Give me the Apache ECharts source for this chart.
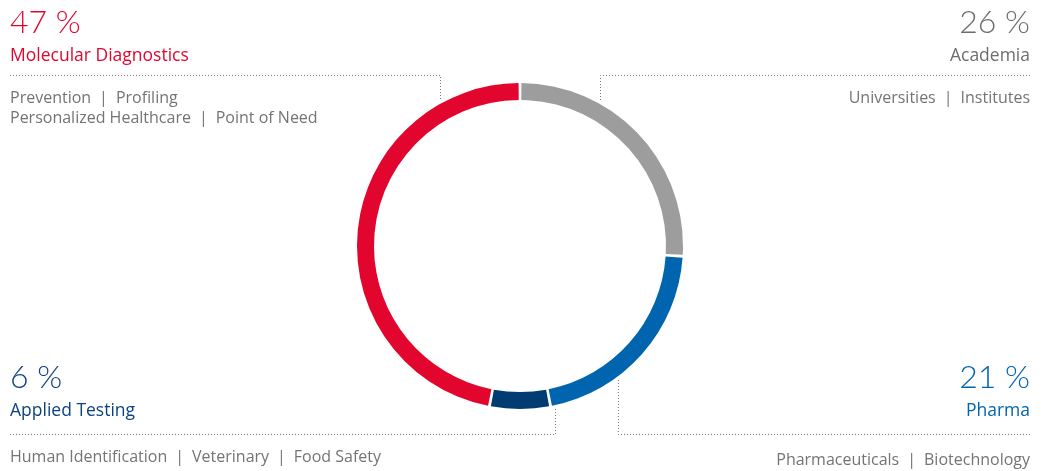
<!DOCTYPE html>
<html>
<head>
<meta charset="utf-8">
<script src="https://cdn.jsdelivr.net/npm/echarts@6/dist/echarts.min.js"></script>
<style>
  html, body { margin: 0; padding: 0; background: #ffffff; }
  #chart { width: 1041px; height: 471px; }
</style>
</head>
<body>
<div id="chart"></div>
<script>
// Business segments, clockwise from the top of the ring
const segments = ['Academia', 'Pharma', 'Applied Testing', 'Molecular Diagnostics'];
const shares = [26, 21, 6, 47];
const details = [
  ['Universities | Institutes'],
  ['Pharmaceuticals | Biotechnology'],
  ['Human Identification | Veterinary | Food Safety'],
  ['Prevention | Profiling', 'Personalized Healthcare | Point of Need']
];

// Styling
const arcColors = ['#9d9d9d', '#0064ae', '#003b71', '#e2062f'];
const headColors = ['#6d6d6d', '#0064ae', '#0b4282', '#e2062f'];
const subColor = '#747474';
const dotColor = '#7a7a7a';
const NUM_FONT = 'Lato, "Open Sans", sans-serif';
const TXT_FONT = '"Open Sans", Lato, sans-serif';

const CX = 520, CY = 246, R_OUT = 163, R_IN = 146;

// Label block placement for each segment: corner, anchor x, leader-line knee x
const blocks = [
  { align: 'right', x: 1030, top: true,  kneeX: 600, subY: 98 },
  { align: 'right', x: 1030, top: false, kneeX: 618, subY: 460 },
  { align: 'left',  x: 10,   top: false, kneeX: 555, subY: 457 },
  { align: 'left',  x: 10,   top: true,  kneeX: 440, subY: 98 }
];

// wider gaps around the separators
const spaced = s => s.replace(/ \| /g, '\u2002|\u2002');

const graphic = [];
segments.forEach((name, i) => {
  const b = blocks[i];
  const pctY = b.top ? 23 : 378;
  const nameY = b.top ? 56 : 411;
  const ruleY = b.top ? 75 : 434;
  graphic.push({
    type: 'text',
    style: { x: b.x, y: pctY, text: shares[i] + ' %', font: '300 32px ' + NUM_FONT,
             fill: headColors[i], textAlign: b.align, textVerticalAlign: 'middle' }
  });
  graphic.push({
    type: 'text',
    style: { x: b.x, y: nameY, text: name, font: '17.5px ' + TXT_FONT,
             fill: headColors[i], textAlign: b.align, textVerticalAlign: 'middle' }
  });
  details[i].forEach((line, k) => {
    graphic.push({
      type: 'text',
      style: { x: b.x, y: b.subY + k * 20, text: spaced(line), font: '16px ' + TXT_FONT,
               fill: subColor, textAlign: b.align, textVerticalAlign: 'middle' }
    });
  });
  // dotted leader: along the rule, then toward the ring's outer edge
  const dx = b.kneeX - CX;
  const edge = Math.sqrt(R_OUT * R_OUT - dx * dx);
  const endY = b.top ? CY - edge - 4 : CY + edge + 3;
  const farX = b.align === 'left' ? 10 : 1030;
  graphic.push({
    type: 'polyline',
    shape: { points: [[farX, ruleY + 0.5], [b.kneeX + 0.5, ruleY + 0.5], [b.kneeX + 0.5, endY]] },
    style: { stroke: dotColor, lineWidth: 1, lineDash: [1, 2], fill: null }
  });
});

const chart = echarts.init(document.getElementById('chart'), null, { renderer: 'canvas' });
chart.setOption({
  backgroundColor: '#ffffff',
  animation: false,
  graphic: graphic,
  series: [{
    type: 'pie',
    center: [CX, CY],
    radius: [R_IN, R_OUT],
    startAngle: 90,
    clockwise: true,
    padAngle: 1,
    silent: true,
    label: { show: false },
    labelLine: { show: false },
    data: segments.map((name, i) => ({
      name: name,
      value: shares[i],
      itemStyle: { color: arcColors[i] }
    }))
  }]
});
</script>
</body>
</html>
